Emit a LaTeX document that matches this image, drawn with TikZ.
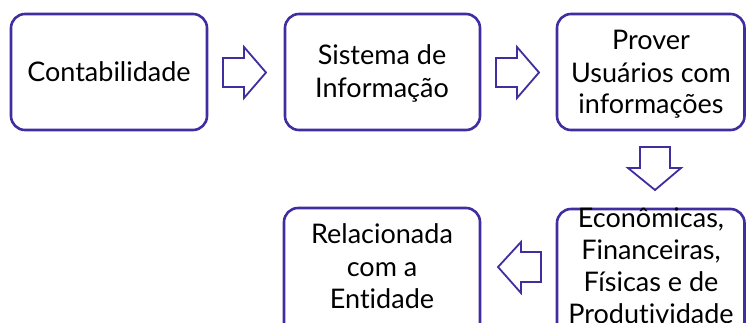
\documentclass[tikz,border=0pt]{standalone}
\usepackage{fontspec}
\setmainfont{Lato}[Ligatures={NoCommon}]
\definecolor{boxline}{RGB}{62,46,160}
\tikzset{
  boxrect/.style={draw=boxline, line width=2.6pt, rounded corners=14pt},
  blockarrow/.style={draw=boxline, line width=1.8pt, fill=white, line join=miter},
  lbl/.style={align=center, font=\fontsize{27}{32.5}\selectfont, inner sep=0pt, text=black, anchor=base}
}
\begin{document}
\begin{tikzpicture}[x=1pt,y=-1pt]
\useasboundingbox (0,0) rectangle (746,322);
\clip (0,0) rectangle (746,322);
% boxes
\draw[boxrect] (11,14) rectangle (207,130);
\draw[boxrect] (285,14) rectangle (480,130);
\draw[boxrect] (557,14) rectangle (744.5,130);
\draw[boxrect] (557,209) rectangle (744.5,340);
\draw[boxrect] (284,208) rectangle (480,340);
% texts
\node[lbl] (t1) at (109,81) {Contabilidade};
\node[lbl] (t2a) at (382,64) {Sistema de};
\node[lbl] (t2b) at (382,97) {Informação};
\node[lbl] (t3a) at (651,49) {Prover};
\node[lbl] (t3b) at (651,82) {Usuários com};
\node[lbl] (t3c) at (651,113) {informações};
\node[lbl] (t4a) at (651,227) {Econômicas,};
\node[lbl] (t4b) at (651,259) {Financeiras,};
\node[lbl] (t4c) at (651,291) {Físicas e de};
\node[lbl] (t4d) at (651,323) {Produtividade};
\node[lbl] (t5a) at (382,243) {Relacionada};
\node[lbl] (t5b) at (382,276) {com a};
\node[lbl] (t5c) at (382,308) {Entidade};
% block arrows
\draw[blockarrow] (223,58) -- (244,58) -- (244,47) -- (266,72.5) -- (244,98) -- (244,87) -- (223,87) -- cycle;
\draw[blockarrow] (496,58) -- (517,58) -- (517,47) -- (539,72.5) -- (517,98) -- (517,87) -- (496,87) -- cycle;
\draw[blockarrow] (640,147) -- (670,147) -- (670,168) -- (681,168) -- (655,190) -- (628,168) -- (640,168) -- cycle;
\draw[blockarrow] (541,252) -- (521,252) -- (521,242) -- (498,267) -- (521,293) -- (521,282) -- (541,282) -- cycle;
\end{tikzpicture}
\end{document}
